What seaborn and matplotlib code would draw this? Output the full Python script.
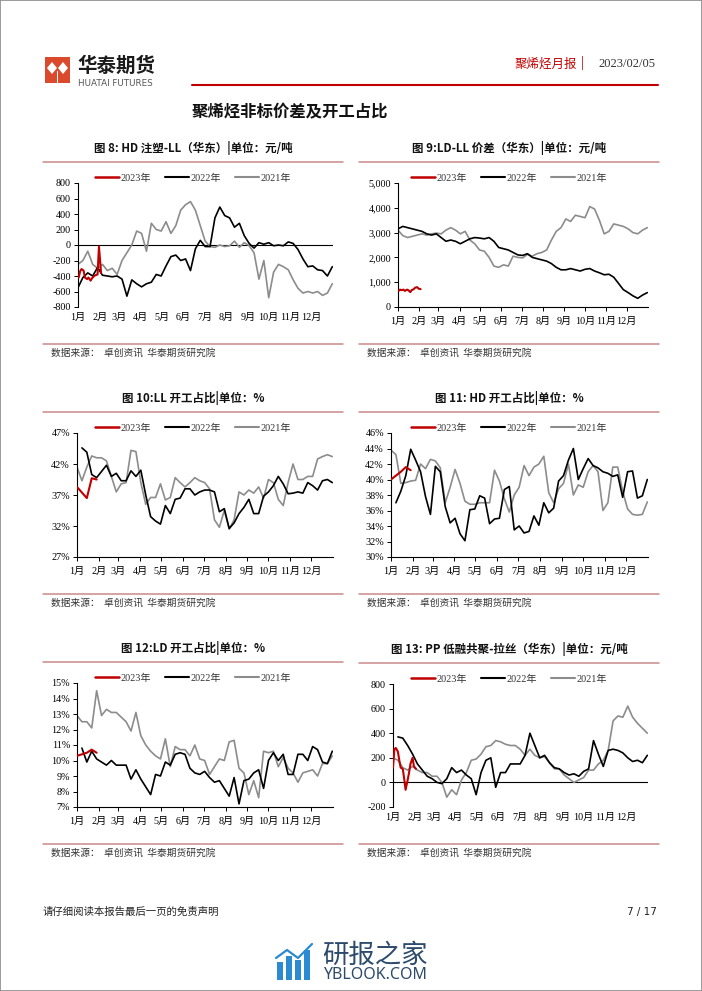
import pandas as pd
import matplotlib
matplotlib.use("Agg")
import matplotlib.pyplot as plt
import matplotlib.transforms as mtransforms
from matplotlib.lines import Line2D
from matplotlib.patches import Rectangle, Polygon
import seaborn as sns

sns.set_theme(style="white")
plt.rcParams['font.family'] = ['Liberation Serif', 'Noto Sans CJK SC', 'DejaVu Sans']
plt.rcParams['axes.unicode_minus'] = False

CJK = ['Noto Sans CJK SC', 'DejaVu Sans']
W, H = 702, 991

# ---- data ----
month_labels = ['1月', '2月', '3月', '4月', '5月', '6月', '7月', '8月', '9月', '10月', '11月', '12月']
month_starts = ['2021-01-01', '2021-02-01', '2021-03-01', '2021-04-01', '2021-05-01', '2021-06-01',
                '2021-07-01', '2021-08-01', '2021-09-01', '2021-10-01', '2021-11-01', '2021-12-01']
year_labels = ['2023年', '2022年', '2021年']

# 图8 HD注塑-LL
hd_ll_2023 = [-420, -340, -310, -330, -420, -440, -420, -460, -430, -400, -390, -380, -20, -360]
hd_ll_2022 = [-550, -420, -360, -400, -290, -390, -400, -410, -400, -440, -660, -450, -500, -540,
              -500, -480, -380, -400, -270, -150, -130, -200, -180, -330, -50, 60, -20, -20, 350,
              490, 380, 350, 230, 280, 120, 20, -40, 30, 10, 30, -10, 0, -10, 40, 20, -60, -180,
              -280, -270, -320, -330, -400, -280]
hd_ll_2021 = [-250, -200, -80, -250, -300, -250, -330, -300, -380, -200, -100, 0, 180, 150, -80,
              280, 200, 180, 300, 150, 250, 450, 520, 560, 450, 250, 50, -20, -30, 0, -20, -10, 50,
              -30, 30, -10, -100, -440, -200, -680, -350, -250, -280, -320, -450, -560, -620, -600,
              -620, -600, -650, -620, -500]

# 图9 LD-LL价差
ld_ll_2023 = [650, 700, 680, 700, 650, 700, 680, 600, 680, 720, 780, 800, 740, 720]
ld_ll_2022 = [3150, 3250, 3200, 3150, 3100, 3050, 2950, 2900, 2950, 2800, 2650, 2700, 2650, 2550,
              2650, 2750, 2800, 2780, 2750, 2800, 2650, 2400, 2350, 2300, 2200, 2100, 2080, 2150,
              2000, 1950, 1900, 1850, 1750, 1600, 1500, 1500, 1550, 1500, 1450, 1520, 1550, 1450,
              1380, 1300, 1320, 1200, 950, 700, 580, 450, 350, 480, 580]
ld_ll_2021 = [3100, 2880, 2800, 2850, 2900, 2950, 2900, 2950, 2980, 2950, 3100, 3200, 3100, 2950,
              3050, 2700, 2550, 2300, 2250, 2000, 1650, 1600, 1700, 1650, 2050, 2000, 1980, 2120,
              2050, 2150, 2200, 2300, 2700, 3050, 3200, 3550, 3450, 3700, 3650, 3600, 4050, 3950,
              3500, 2950, 3050, 3350, 3300, 3250, 3150, 3000, 2950, 3100, 3200]

# 图10 LL开工占比 (%)
ll_rate_2023 = [38.3, 37.4, 36.5, 39.7, 39.5]
ll_rate_2022 = [44.6, 43.9, 40.3, 39.8, 40.8, 41.8, 40.0, 40.5, 39.3, 39.3, 40.9, 40.0, 41.0, 37.0,
                33.5, 32.8, 32.3, 35.3, 34.0, 36.3, 36.5, 38.0, 38.0, 37.0, 37.5, 37.8, 37.8, 37.5,
                34.3, 34.8, 31.6, 32.5, 34.0, 35.0, 36.3, 34.0, 34.0, 36.8, 37.5, 38.5, 40.0, 38.8,
                37.2, 37.3, 37.5, 37.3, 39.0, 38.5, 37.8, 39.3, 39.5, 39.0]
ll_rate_2021 = [41.5, 39.3, 41.5, 43.3, 43.0, 43.0, 42.5, 40.0, 37.5, 38.8, 39.0, 44.2, 44.0, 39.0,
                35.5, 36.6, 36.6, 38.8, 36.2, 36.6, 39.8, 39.0, 38.3, 39.0, 39.8, 39.3, 39.0, 38.0,
                33.0, 31.8, 34.5, 31.5, 33.0, 37.5, 37.0, 37.8, 37.3, 38.3, 36.5, 39.5, 39.0, 36.3,
                35.3, 39.0, 42.0, 39.5, 39.5, 40.0, 40.0, 42.8, 43.2, 43.5, 43.2]

# 图11 HD开工占比 (%)
hd_rate_2023 = [40.0, 40.5, 41.0, 41.6, 41.2]
hd_rate_2022 = [37.0, 38.5, 40.5, 43.9, 42.5, 41.0, 37.8, 35.5, 41.7, 41.0, 36.5, 34.4, 35.0, 33.0,
                32.1, 36.1, 36.2, 37.9, 37.6, 34.3, 34.9, 35.0, 38.7, 39.1, 33.5, 34.0, 33.1, 33.3,
                35.3, 34.1, 37.0, 35.7, 36.3, 39.8, 40.5, 42.5, 44.0, 40.0, 41.4, 42.7, 41.8, 41.5,
                41.0, 40.8, 40.4, 40.6, 37.7, 41.0, 41.1, 37.6, 37.9, 40.0]
hd_rate_2021 = [43.8, 43.2, 39.5, 39.6, 39.8, 39.9, 42.0, 41.4, 42.6, 42.4, 41.5, 37.0, 39.0, 41.3,
                39.5, 37.2, 36.8, 36.8, 37.0, 37.0, 37.0, 41.2, 39.8, 37.5, 35.8, 38.0, 39.0, 41.8,
                40.5, 41.6, 42.0, 43.0, 38.3, 37.0, 38.8, 39.5, 42.0, 38.0, 39.3, 39.0, 41.0, 41.8,
                41.0, 36.0, 37.0, 41.6, 41.6, 38.5, 36.2, 35.5, 35.4, 35.5, 37.1]

# 图12 LD开工占比 (%)
ld_rate_2023 = [10.3, 10.4, 10.5, 10.7, 10.5]
ld_rate_2022 = [10.8, 9.9, 10.6, 10.1, 9.9, 9.7, 10.0, 9.7, 9.7, 9.7, 8.8, 9.4, 8.8, 8.3, 7.8, 9.1,
                9.0, 9.9, 9.7, 10.4, 10.5, 10.4, 9.5, 9.2, 9.1, 9.3, 8.9, 8.6, 8.7, 8.2, 7.7, 8.9,
                7.2, 8.7, 8.8, 9.2, 9.4, 8.2, 10.0, 10.5, 10.0, 10.4, 9.1, 9.1, 10.4, 10.4, 10.0,
                10.9, 10.7, 9.9, 9.8, 10.6]
ld_rate_2021 = [12.9, 12.5, 12.5, 12.1, 14.5, 12.9, 13.3, 13.1, 13.1, 12.8, 12.5, 11.9, 13.1, 11.6,
                11.0, 10.6, 10.3, 10.1, 11.4, 9.6, 10.9, 10.7, 10.7, 10.3, 11.0, 10.1, 10.0, 9.1,
                9.6, 10.1, 10.0, 11.2, 11.3, 9.5, 9.2, 7.8, 8.7, 7.6, 10.6, 10.5, 10.6, 9.6, 10.2,
                9.5, 9.2, 8.6, 9.2, 9.3, 9.4, 9.0, 9.8, 9.8, 10.3]

# 图13 PP低融共聚-拉丝
pp_2023 = [120, 270, 280, 250, 180, 120, 110, 30, -60, 20, 80, 150, 200, 130, 110]
pp_2022 = [370, 360, 300, 230, 150, 100, 50, 30, 0, -10, 30, 120, 80, 100, 60, 30, -100, 80, 180,
           200, -40, 80, 80, 150, 150, 150, 220, 400, 300, 200, 220, 160, 120, 110, 80, 60, 70, 50,
           90, 110, 340, 230, 130, 260, 270, 260, 240, 200, 170, 180, 160, 220]
pp_2021 = [200, 180, 120, 100, 130, 100, 80, 80, 50, 50, 0, -120, -60, -100, 20, 80, 180, 190, 230,
           290, 300, 340, 330, 310, 300, 300, 270, 220, 270, 220, 200, 210, 160, 110, 110, 60, 30,
           0, 20, 40, 100, 100, 150, 180, 260, 500, 540, 530, 620, 530, 480, 440, 400]


def doy(dates):
    return (dates - pd.Timestamp(dates[0].year, 1, 1)).days


def weekly(start, vals):
    d = pd.date_range(start, periods=len(vals), freq='7D')
    return pd.DataFrame({'day': doy(d), 'value': vals})


def spread(start, end, vals):
    d = pd.date_range(start, end, periods=len(vals))
    return pd.DataFrame({'day': doy(d), 'value': vals})


COLORS = {'2023年': '#c00000', '2022年': '#000000', '2021年': '#8c8c8c'}
WIDTHS = {'2023年': 1.5, '2022年': 1.2, '2021年': 1.2}
ZORD = {'2023年': 4, '2022年': 3, '2021年': 2}

fig = plt.figure(figsize=(W / 100, H / 100), dpi=100)
month_days = doy(pd.to_datetime(month_starts))


def panel(box, cx, title, frames, ylim, yticks, ylabels, zero_line=False):
    x0, y0, x1, y1 = box
    ax = fig.add_axes([x0 / W, 1 - y1 / H, (x1 - x0) / W, (y1 - y0) / H])
    for name in ['2021年', '2022年', '2023年']:
        sns.lineplot(data=frames[name], x='day', y='value', color=COLORS[name],
                     lw=WIDTHS[name], ax=ax, zorder=ZORD[name], legend=False)
    ax.set_xlim(0, 365)
    ax.set_ylim(*ylim)
    ax.set_xticks(month_days)
    ax.set_xticklabels(month_labels)
    ax.set_yticks(yticks)
    ax.set_yticklabels(ylabels)
    ax.set_xlabel('')
    ax.set_ylabel('')
    ax.grid(False)
    for s in ['top', 'right']:
        ax.spines[s].set_visible(False)
    ax.spines['left'].set_color('black')
    ax.spines['left'].set_linewidth(0.8)
    ax.spines['bottom'].set_color('black')
    ax.spines['bottom'].set_linewidth(0.8)
    ax.tick_params(axis='y', direction='out', length=3, width=0.7, pad=2, labelsize=7.3,
                   colors='black', left=True)
    ax.tick_params(axis='x', direction='out', length=3, width=0.7, pad=4, labelsize=7.3,
                   colors='black', bottom=True)
    if zero_line:
        ax.spines['bottom'].set_visible(False)
        ax.tick_params(axis='x', length=0)
        ax.axhline(0, color='black', lw=0.8, zorder=1)

    ytop = y0 - 14
    fig.text(cx / W, 1 - (ytop - 21) / H, title, ha='center', va='center',
             family=CJK, weight='bold', size=8.3, color='#111111')
    fig.add_artist(Line2D([(cx - 150) / W, (cx + 150) / W], [1 - (ytop - 7) / H] * 2,
                          color='#c98a8c', lw=1.1))
    fig.add_artist(Line2D([(cx - 150) / W, (cx + 150) / W], [1 - (y1 + 37) / H] * 2,
                          color='#c98a8c', lw=1.1))
    fig.text((cx - 142) / W, 1 - (y1 + 46) / H, '数据来源：  卓创资讯  华泰期货研究院',
             ha='left', va='center', family=CJK, size=7, color='#333333')
    handles = [Line2D([], [], color=COLORS[n], lw=WIDTHS[n] + 0.3) for n in year_labels]
    fig.legend(handles, year_labels, loc='center', bbox_to_anchor=(cx / W, 1 - (y0 - 5) / H),
               ncol=3, frameon=False, handlelength=2.4, handletextpad=0.2, columnspacing=1.3,
               prop={'family': ['Liberation Serif', 'Noto Sans CJK SC'], 'size': 7.3},
               labelcolor='#333333')
    return ax


def fmt_int(v):
    return f'{v:,.0f}'


panel((78, 183, 333, 307), 193, '图 8: HD 注塑-LL（华东）|单位：元/吨',
      {'2023年': spread('2023-01-02', '2023-02-03', hd_ll_2023),
       '2022年': weekly('2022-01-01', hd_ll_2022),
       '2021年': weekly('2021-01-01', hd_ll_2021)},
      (-800, 800), list(range(-800, 801, 200)), [str(v) for v in range(-800, 801, 200)],
      zero_line=True)

panel((398, 183, 648, 307), 509, '图 9:LD-LL 价差（华东）|单位：元/吨',
      {'2023年': spread('2023-01-02', '2023-02-03', ld_ll_2023),
       '2022年': weekly('2022-01-01', ld_ll_2022),
       '2021年': weekly('2021-01-01', ld_ll_2021)},
      (0, 5000), list(range(0, 5001, 1000)), [fmt_int(v) for v in range(0, 5001, 1000)])

panel((77, 433, 333, 557), 193, '图 10:LL 开工占比|单位：%',
      {'2023年': weekly('2023-01-01', ll_rate_2023),
       '2022年': weekly('2022-01-08', ll_rate_2022),
       '2021年': weekly('2021-01-01', ll_rate_2021)},
      (27, 47), list(range(27, 48, 5)), [f'{v}%' for v in range(27, 48, 5)])

panel((391, 433, 648, 557), 509, '图 11: HD 开工占比|单位：%',
      {'2023年': weekly('2023-01-01', hd_rate_2023),
       '2022年': weekly('2022-01-08', hd_rate_2022),
       '2021年': weekly('2021-01-01', hd_rate_2021)},
      (30, 46), list(range(30, 47, 2)), [f'{v}%' for v in range(30, 47, 2)])

panel((77, 683, 333, 807), 193, '图 12:LD 开工占比|单位：%',
      {'2023年': weekly('2023-01-01', ld_rate_2023),
       '2022年': weekly('2022-01-08', ld_rate_2022),
       '2021年': weekly('2021-01-01', ld_rate_2021)},
      (7, 15), list(range(7, 16)), [f'{v}%' for v in range(7, 16)])

panel((393, 684, 648, 807), 509, '图 13: PP 低融共聚-拉丝（华东）|单位：元/吨',
      {'2023年': spread('2023-01-01', '2023-02-03', pp_2023),
       '2022年': weekly('2022-01-08', pp_2022),
       '2021年': weekly('2021-01-01', pp_2021)},
      (-200, 800), list(range(-200, 801, 200)), [str(v) for v in range(-200, 801, 200)],
      zero_line=True)

# ---- page header ----
fig.add_artist(Rectangle((45 / W, 1 - 83 / H), 25 / W, 26 / H, color='#dc4a2e', lw=0))
for cxp in (52, 63):
    pts = [((cxp) / W, 1 - 62 / H), ((cxp + 5) / W, 1 - 68 / H),
           (cxp / W, 1 - 74 / H), ((cxp - 5) / W, 1 - 68 / H)]
    fig.add_artist(Polygon(pts, closed=True, color='white', lw=0))
fig.add_artist(Rectangle((56.5 / W, 1 - 83 / H), 2 / W, 12 / H, color='white', lw=0))
fig.text(77 / W, 1 - 66 / H, '华泰期货', family=CJK, weight='bold', size=14,
         color='#1a1a1a', ha='left', va='center')
fig.text(78 / W, 1 - 84 / H, 'HUATAI FUTURES', family=['DejaVu Sans'], size=6.3,
         color='#555555', ha='left', va='center')
fig.text(577 / W, 1 - 64 / H, '聚烯烃月报', family=CJK, size=9, color='#c00000',
         ha='right', va='center')
fig.text(582 / W, 1 - 63 / H, '|', family=CJK, size=9, color='#c00000',
         ha='center', va='center')
fig.text(655 / W, 1 - 64 / H, '2023/02/05', family=['Liberation Serif'], size=9,
         color='#333333', ha='right', va='center')
fig.add_artist(Line2D([192 / W, 658 / W], [1 - 85 / H] * 2, color='#c00000', lw=1.5))
fig.text(290 / W, 1 - 112 / H, '聚烯烃非标价差及开工占比', family=CJK, weight='bold',
         size=11.8, color='#111111', ha='center', va='center')

# ---- footer ----
fig.text(43 / W, 1 - 912 / H, '请仔细阅读本报告最后一页的免责声明', family=CJK, size=7.5,
         color='#222222', ha='left', va='center')
fig.text(657 / W, 1 - 912 / H, '7 / 17', family=['DejaVu Sans'], size=7.5,
         color='#222222', ha='right', va='center')

# watermark
for bx, bh in zip((277, 286, 295, 304), (18, 24, 20, 30)):
    fig.add_artist(Rectangle((bx / W, 1 - 980 / H), 6 / W, bh / H, color='#2a8ad2', lw=0))
fig.add_artist(Line2D([276 / W, 287 / W, 298 / W, 312 / W],
                      [1 - 958 / H, 1 - 950 / H, 1 - 958 / H, 1 - 944 / H],
                      color='#2a8ad2', lw=1.6))
fig.text(322 / W, 1 - 955 / H, '研报之家', family=CJK, size=19, color='#2c4a6b',
         ha='left', va='center')
fig.text(323 / W, 1 - 975 / H, 'YBLOOK.COM', family=['Noto Sans'], size=11.5,
         color='#2c4a6b', ha='left', va='center')

fig.add_artist(Rectangle((0, 0), 1, 1, transform=fig.transFigure, fill=False,
                         edgecolor='#8a8a8a', lw=1.2))

fig.savefig('out.png', dpi=100)
